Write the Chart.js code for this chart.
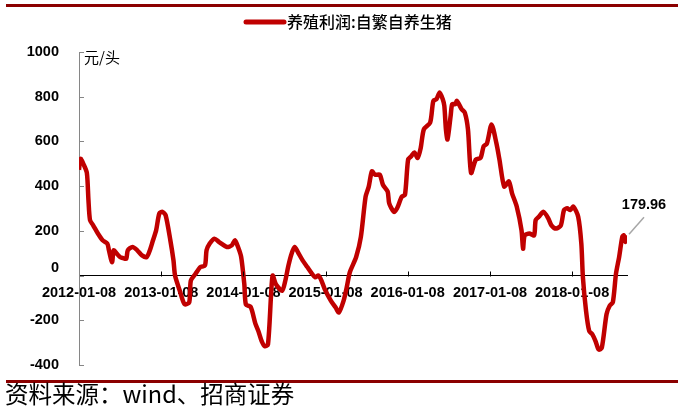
<!DOCTYPE html>
<html lang="zh-CN">
<head>
<meta charset="UTF-8">
<title>养殖利润:自繁自养生猪</title>
<style>
  html, body { margin: 0; padding: 0; background: #fff; }
  #wrap { width: 678px; height: 407px; }
</style>
</head>
<body>
<div id="wrap"><canvas id="chart" width="678" height="407"></canvas></div>
<script src="https://cdn.jsdelivr.net/npm/chart.js"></script>
<script>
  const seriesName = "养殖利润:自繁自养生猪";
  const unitText = "元/头";
  const sourceText = "资料来源：wind、招商证券";
  const startDate = "2012-01-08";

  // weeks since 2012-01-08 (weekly series)
  const weeks = [0,1,3,5,6,7,9,12,15,18,19,21,22,24,26,28,30,31,34,37,40,43,45,47,49,51,53,55,58,60,
    61,64,67,70,71,74,77,80,81,83,86,89,94,97,99,101,103,105,106,109,112,114,116,118,120,122,123,125,129,131,
    133,135,137,139,142,145,148,150,152,154,156,160,163,165,168,170,172,176,179,182,184,186,188,191,193,196,197,200,202,205,
    207,209,211,213,215,217,219,223,225,227,229,231,232,233,234,236,237,239,240,243,245,247,249,252,255,257,259,262,265,267,
    270,273,275,278,281,282,283,286,289,290,292,295,298,300,303,306,308,310,312,314,317,319,320,322,324,326,328,330,332,335,
    337,339,341,343,345,346,347,348];

  // 元/头
  const profit = [473,522,496,459,338,248,225,188,158,143,113,60,113,98,83,78,75,113,128,113,90,83,113,158,203,278,285,270,158,68,
    0,-68,-128,-120,-23,8,38,45,113,143,165,150,128,135,158,128,83,-40,-130,-140,-215,-250,-293,-316,-308,-83,0,-38,-68,-23,
    45,98,128,105,68,38,8,-8,0,-23,-60,-113,-143,-165,-113,-53,15,83,173,353,398,466,451,451,406,376,323,285,301,353,
    361,519,534,551,526,571,654,684,781,789,819,789,759,654,609,714,767,767,781,744,729,654,459,519,526,579,590,676,594,519,
    398,421,368,308,203,120,180,188,180,248,263,285,256,225,210,225,293,301,293,308,263,143,-8,-158,-248,-263,-293,-331,-323,-173,
    -135,-120,8,83,173,180,150,179.96];

  const tickLabels = ["2012-01-08","2013-01-08","2014-01-08","2015-01-08","2016-01-08","2017-01-08","2018-01-08"];
  const lastLabel = "179.96";

  const WEEK = 7 * 24 * 3600 * 1000;
  function weekOf(d) { return (Date.parse(d) - Date.parse(startDate)) / WEEK; }

  const numFont = '"Liberation Sans", Arial, sans-serif';
  const cjkFont = '"Noto Sans CJK SC", sans-serif';
  const red = '#c00000';

  const decor = {
    id: 'decor',
    afterDraw(chart) {
      const { ctx, chartArea, scales: { x, y } } = chart;
      ctx.save();

      // dark red rules top and bottom
      ctx.fillStyle = '#8b0000';
      ctx.fillRect(6, 4, 672, 3);
      ctx.fillRect(6, 380, 672, 3);

      // legend
      const ds = chart.data.datasets[0];
      ctx.strokeStyle = ds.borderColor;
      ctx.lineWidth = 5;
      ctx.lineCap = 'round';
      ctx.beginPath();
      ctx.moveTo(246, 22); ctx.lineTo(284, 22);
      ctx.stroke();
      ctx.fillStyle = '#000';
      ctx.font = '500 16px ' + cjkFont;
      ctx.textBaseline = 'middle';
      ctx.textAlign = 'left';
      ctx.fillText(ds.label, 287, 22);

      // inside tick marks on y axis
      ctx.lineCap = 'butt';
      ctx.lineWidth = 1;
      ctx.strokeStyle = '#868686';
      ctx.beginPath();
      y.ticks.forEach(t => {
        const py = Math.round(y.getPixelForValue(t.value)) + 0.5;
        ctx.moveTo(chartArea.left, py); ctx.lineTo(chartArea.left + 5, py);
      });
      ctx.stroke();

      // tick marks on the zero line
      const y0 = Math.round(y.getPixelForValue(0)) + 0.5;
      ctx.strokeStyle = '#000';
      ctx.beginPath();
      x.ticks.forEach((t, i) => {
        if (i === 0) return;
        const px = Math.round(x.getPixelForValue(t.value)) + 0.5;
        ctx.moveTo(px, y0); ctx.lineTo(px, y0 - 5);
      });
      ctx.stroke();

      // "0" label sits a bit above its tick in the original
      ctx.font = 'bold 14.5px ' + numFont;
      ctx.textAlign = 'right';
      ctx.fillText('0', chartArea.left - 20, y0 - 9);

      // unit
      ctx.textAlign = 'left';
      ctx.font = '15px ' + cjkFont;
      ctx.fillText(unitText, chartArea.left + 5, chartArea.top + 5);

      // last value callout
      const i = profit.length - 1;
      const px = x.getPixelForValue(weeks[i]);
      const py = y.getPixelForValue(profit[i]);
      ctx.strokeStyle = '#a6a6a6';
      ctx.lineWidth = 1.5;
      ctx.beginPath();
      ctx.moveTo(px + 2, py - 1); ctx.lineTo(px + 17, py - 18);
      ctx.stroke();
      ctx.font = 'bold 14.5px ' + numFont;
      ctx.textAlign = 'center';
      ctx.fillText(lastLabel, px + 17, py - 30);

      // source
      ctx.textAlign = 'left';
      ctx.textBaseline = 'alphabetic';
      ctx.font = '23.5px ' + cjkFont;
      ctx.fillText(sourceText, 5, 403);
      ctx.restore();
    }
  };

  new Chart(document.getElementById('chart'), {
    type: 'line',
    data: {
      datasets: [{
        label: seriesName,
        data: weeks.map((w, i) => ({ x: w, y: profit[i] })),
        borderColor: red,
        backgroundColor: red,
        borderWidth: 4.5,
        pointRadius: 0,
        tension: 0.25
      }]
    },
    options: {
      responsive: false,
      animation: false,
      layout: { padding: { left: 0, right: 51, top: 52, bottom: 42 } },
      plugins: { legend: { display: false }, tooltip: { enabled: false } },
      scales: {
        x: {
          type: 'linear',
          min: 0,
          max: 348,
          position: { y: 0 },
          afterBuildTicks: s => { s.ticks = tickLabels.map(l => ({ value: weekOf(l) })); },
          grid: { display: false, drawTicks: false },
          border: { display: true, color: '#000', width: 1 },
          ticks: {
            autoSkip: false,
            maxRotation: 0,
            padding: 9,
            color: '#000',
            font: { family: numFont, size: 14.5, weight: 'bold' },
            callback: (v, i) => tickLabels[i]
          }
        },
        y: {
          min: -400,
          max: 1000,
          afterFit: s => { s.width = 79; },
          grid: { display: false, drawTicks: false },
          border: { display: true, color: '#868686', width: 1 },
          ticks: {
            stepSize: 200,
            padding: 20,
            color: '#000',
            font: { family: numFont, size: 14.5, weight: 'bold' },
            callback: v => v === 0 ? '' : v
          }
        }
      }
    },
    plugins: [decor]
  });
</script>
</body>
</html>
